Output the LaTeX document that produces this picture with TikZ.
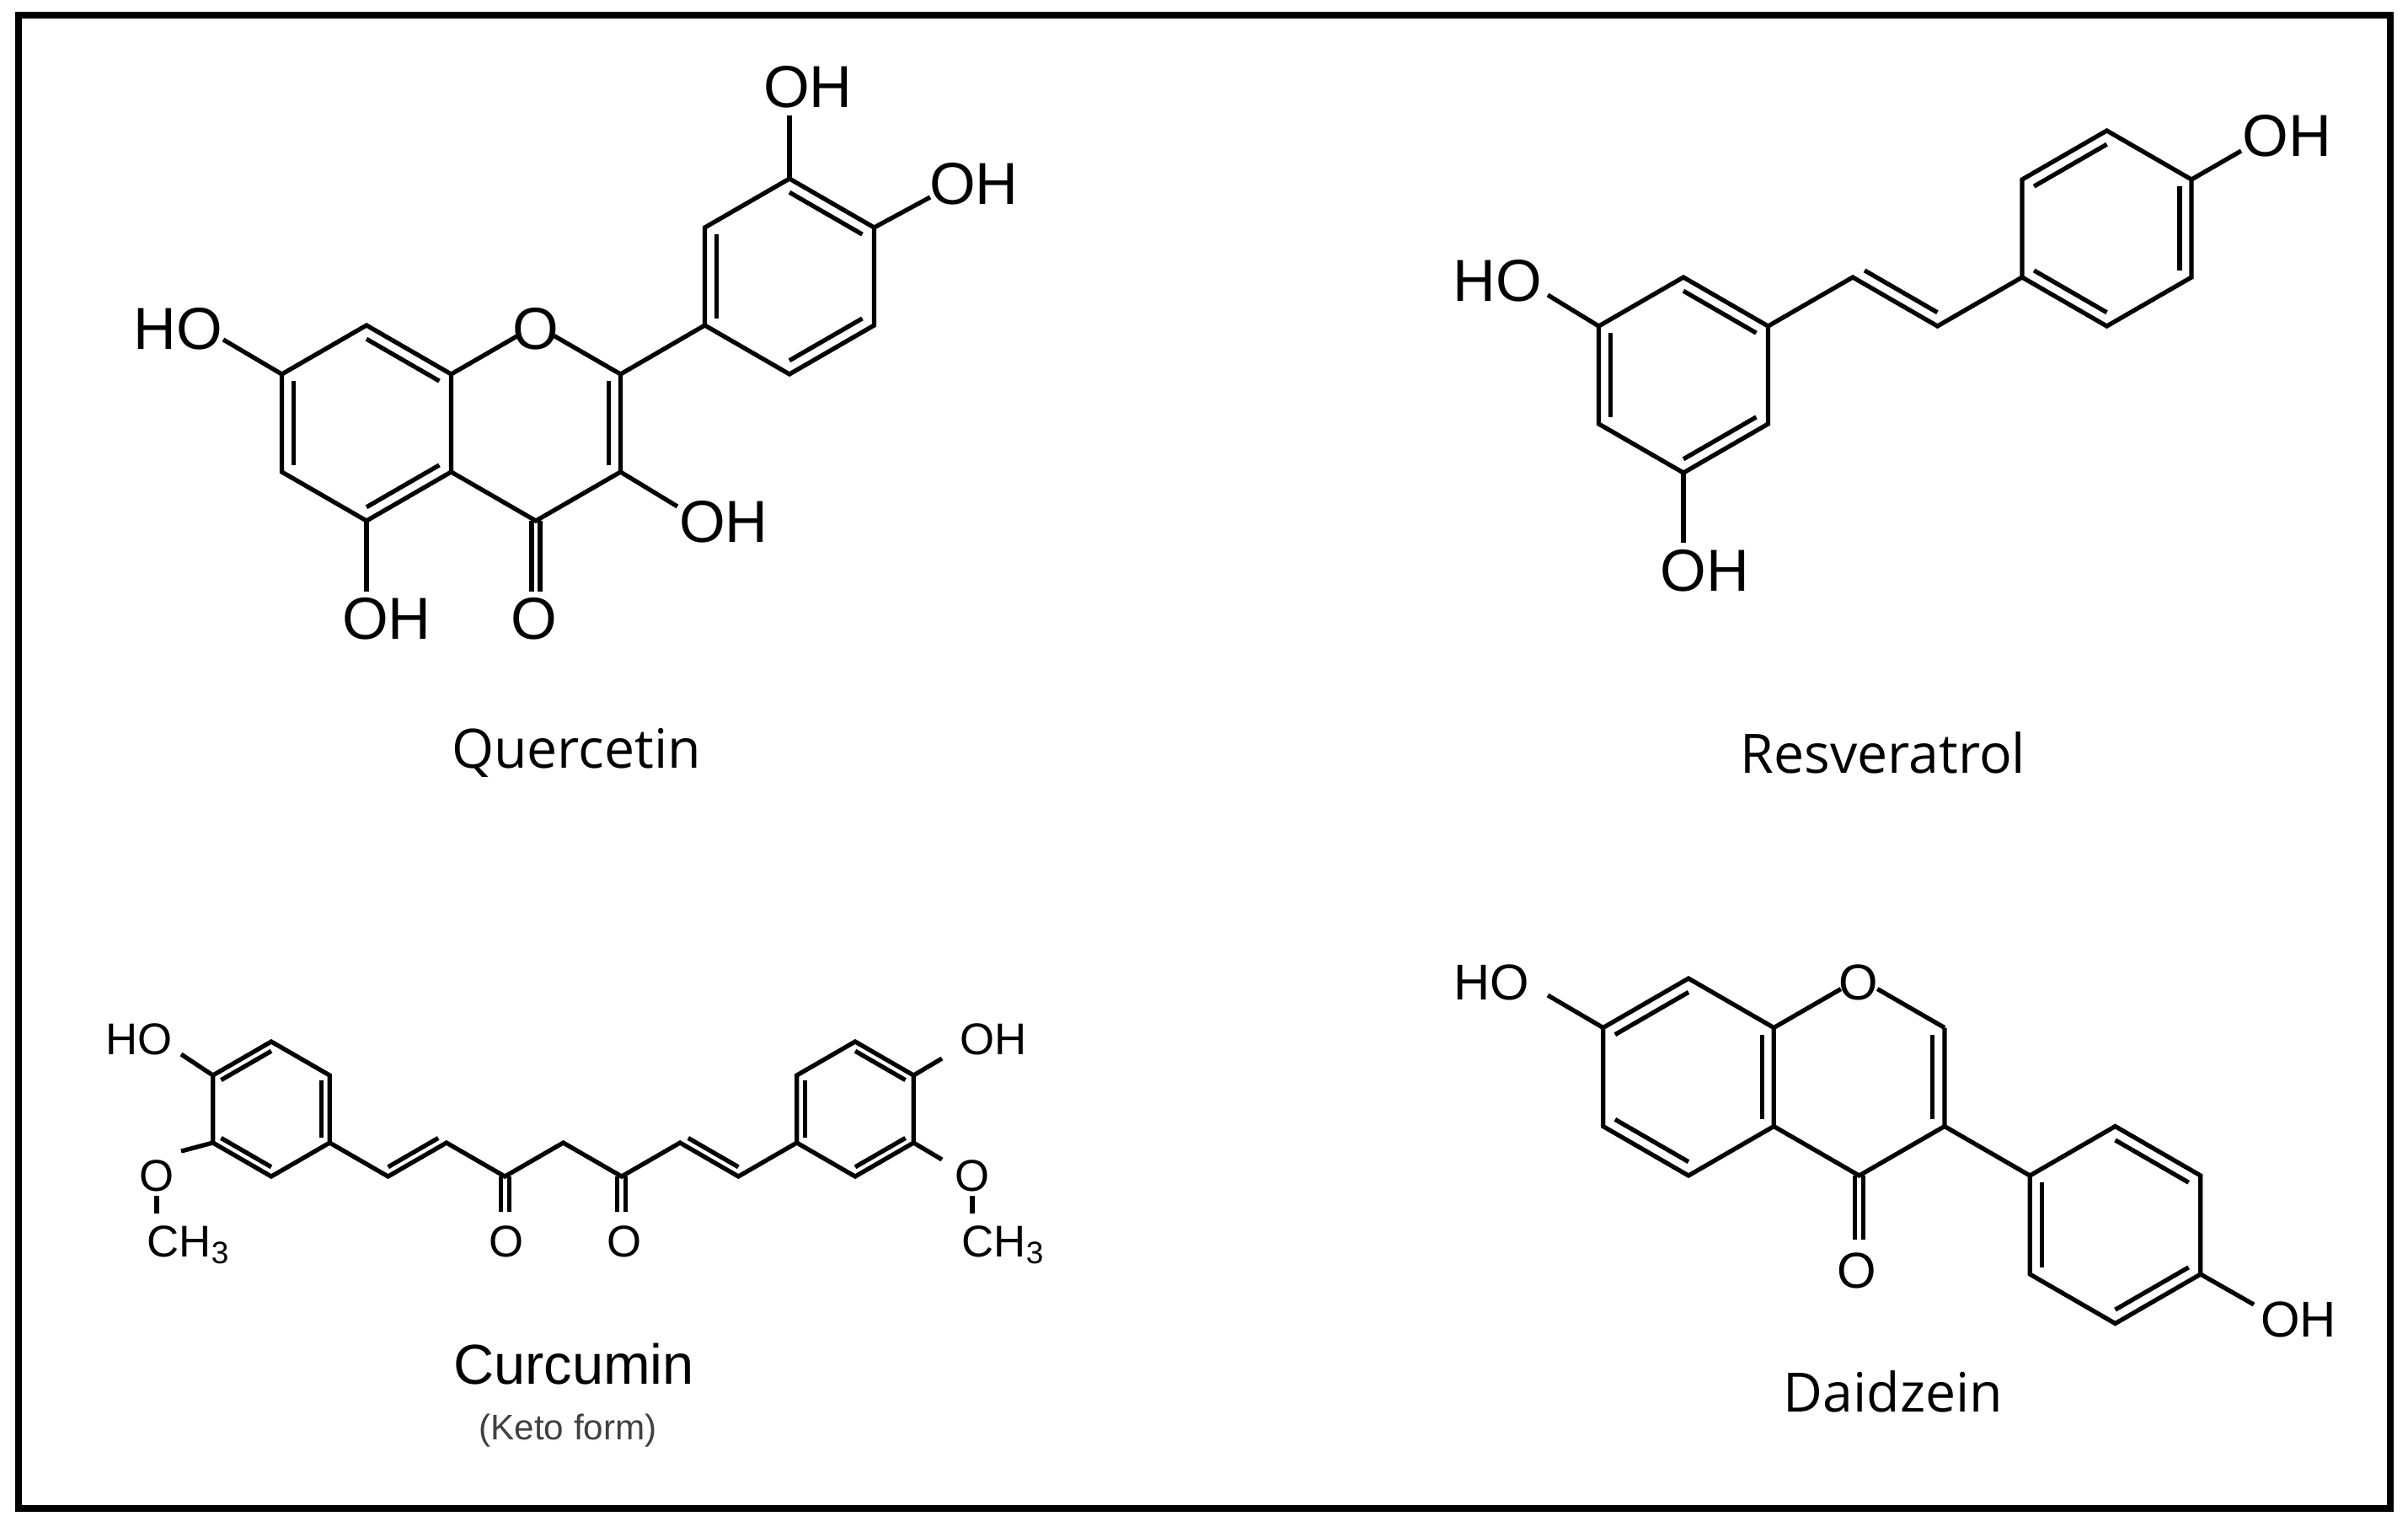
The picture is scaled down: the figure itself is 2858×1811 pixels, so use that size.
\documentclass[tikz,border=0pt]{standalone}
\usepackage{fontspec}
\setmainfont{Liberation Sans}
\newfontfamily\capfont{Open Sans}
\usetikzlibrary{calc}
\newcommand\innerb[3]{\draw[bondl] ($(#1)!0.14!(#3)$) -- ($(#2)!0.14!(#3)$);}
\newcommand\dblv[2]{\draw[bondl] ($(#1)+(-5,0)$) -- ($(#2)+(-5,0)$); \draw[bondl] ($(#1)+(5,0)$) -- ($(#2)+(5,0)$);}
\begin{document}
\begin{tikzpicture}[x=0.01cm,y=-0.01cm,
  bondl/.style={line width=1.5pt},
  lbl/.style={font=\fontsize{20}{20}\selectfont, inner sep=0pt},
  lbld/.style={font=\fontsize{17}{17}\selectfont, inner sep=0pt},
  lblc/.style={font=\fontsize{15}{15}\selectfont, inner sep=0pt},
  caption/.style={font=\capfont\fontsize{18.3}{18.3}\selectfont, inner sep=0pt}]
\useasboundingbox (0,0) rectangle (2858,1811);
\fill[white] (0,0) rectangle (2858,1811);
\draw[line width=2.2pt] (22,18) rectangle (2837,1790);

% ================= Quercetin =================
\coordinate (qAc) at (435,502); \coordinate (qCc) at (636,502); \coordinate (qBc) at (937,328);
\coordinate (qA1) at (435,386); \coordinate (qA2) at (535.5,444); \coordinate (qA3) at (535.5,560);
\coordinate (qA4) at (435,618); \coordinate (qA5) at (334.5,560); \coordinate (qA6) at (334.5,444);
\coordinate (qO1) at (636,386); \coordinate (qC2) at (736.5,444); \coordinate (qC3) at (736.5,560); \coordinate (qC4) at (636,618);
\coordinate (qB1) at (937,212); \coordinate (qB2) at (1037.5,270); \coordinate (qB3) at (1037.5,386);
\coordinate (qB4) at (937,444); \coordinate (qB5) at (836.5,386); \coordinate (qB6) at (836.5,270);
\coordinate (qe7) at (265,403); \coordinate (qe5) at (435,702); \coordinate (qe4) at (636,702);
\coordinate (qe3) at (804,601); \coordinate (qe3p) at (937,137); \coordinate (qe4p) at (1104,234);
\draw[bondl] (qA1)--(qA2)--(qA3)--(qA4)--(qA5)--(qA6)--cycle;
\draw[bondl,shorten >=0.25cm] (qA2)--(qO1);
\draw[bondl,shorten <=0.25cm] (qO1)--(qC2);
\draw[bondl] (qC2)--(qC3)--(qC4)--(qA3);
\draw[bondl] (qB1)--(qB2)--(qB3)--(qB4)--(qB5)--(qB6)--cycle;
\draw[bondl] (qC2)--(qB5);
\innerb{qA1}{qA2}{qAc} \innerb{qA5}{qA6}{qAc} \innerb{qA3}{qA4}{qAc}
\innerb{qC2}{qC3}{qCc}
\innerb{qB5}{qB6}{qBc} \innerb{qB1}{qB2}{qBc} \innerb{qB3}{qB4}{qBc}
\draw[bondl] (qA6)--(qe7); \draw[bondl] (qA4)--(qe5); \dblv{qC4}{qe4}
\draw[bondl] (qC3)--(qe3); \draw[bondl] (qB1)--(qe3p); \draw[bondl] (qB2)--(qe4p);
\node[lbl] (qlO1) at (636,390) {O};
\node[lbl] (qlHO7) at (211,390) {HO};
\node[lbl] (qlOH5) at (459,734) {OH};
\node[lbl] (qlO4) at (634,734) {O};
\node[lbl] (qlOH3) at (859,619) {OH};
\node[lbl] (qlOH3p) at (959,103) {OH};
\node[lbl] (qlOH4p) at (1156,218) {OH};
\node[caption] (qcap) at (684,893) {Quercetin};

% ================= Resveratrol =================
\coordinate (rLc) at (1998,445); \coordinate (rRc) at (2500.5,271);
\coordinate (rL1) at (1998,329); \coordinate (rL2) at (2098.5,387); \coordinate (rL3) at (2098.5,503);
\coordinate (rL4) at (1998,561); \coordinate (rL5) at (1897.5,503); \coordinate (rL6) at (1897.5,387);
\coordinate (rV1) at (2199,329); \coordinate (rV2) at (2299.5,387); \coordinate (rVc) at (2299,271);
\coordinate (rR1) at (2500.5,155); \coordinate (rR2) at (2601,213); \coordinate (rR3) at (2601,329);
\coordinate (rR4) at (2500.5,387); \coordinate (rR5) at (2400,329); \coordinate (rR6) at (2400,213);
\coordinate (re1) at (1837,350); \coordinate (re2) at (1998,644); \coordinate (re3) at (2660,179);
\draw[bondl] (rL1)--(rL2)--(rL3)--(rL4)--(rL5)--(rL6)--cycle;
\draw[bondl] (rR1)--(rR2)--(rR3)--(rR4)--(rR5)--(rR6)--cycle;
\draw[bondl] (rL2)--(rV1)--(rV2)--(rR5);
\innerb{rL1}{rL2}{rLc} \innerb{rL5}{rL6}{rLc} \innerb{rL3}{rL4}{rLc}
\innerb{rR6}{rR1}{rRc} \innerb{rR2}{rR3}{rRc} \innerb{rR5}{rR4}{rRc}
\innerb{rV1}{rV2}{rVc}
\draw[bondl] (rL6)--(re1); \draw[bondl] (rL4)--(re2); \draw[bondl] (rR2)--(re3);
\node[lbl] (rlHO) at (1777,333) {HO};
\node[lbl] (rlOH1) at (2023,677) {OH};
\node[lbl] (rlOH2) at (2714,161) {OH};
\node[caption] (rcap) at (2235,893) {Resveratrol};

% ================= Curcumin =================
\coordinate (cLc) at (322,1316); \coordinate (cRc) at (1015,1316);
\coordinate (cL1) at (322,1236); \coordinate (cL2) at (391.3,1276); \coordinate (cL3) at (391.3,1356);
\coordinate (cL4) at (322,1396); \coordinate (cL5) at (252.7,1356); \coordinate (cL6) at (252.7,1276);
\coordinate (cR1) at (1015,1236); \coordinate (cR2) at (1084.3,1276); \coordinate (cR3) at (1084.3,1356);
\coordinate (cR4) at (1015,1396); \coordinate (cR5) at (945.7,1356); \coordinate (cR6) at (945.7,1276);
\coordinate (ck1) at (460.6,1396); \coordinate (ck2) at (529.9,1356); \coordinate (ck3) at (599.2,1396);
\coordinate (ck4) at (668.5,1356); \coordinate (ck5) at (737.8,1396); \coordinate (ck6) at (807.1,1356);
\coordinate (ck7) at (876.4,1396);
\coordinate (cv1) at (460.7,1316); \coordinate (cv2) at (876.4,1316);
\coordinate (cO3) at (599.2,1438); \coordinate (cO5) at (737.8,1438);
\draw[bondl] (cL1)--(cL2)--(cL3)--(cL4)--(cL5)--(cL6)--cycle;
\draw[bondl] (cR1)--(cR2)--(cR3)--(cR4)--(cR5)--(cR6)--cycle;
\draw[bondl] (cL3)--(ck1)--(ck2)--(ck3)--(ck4)--(ck5)--(ck6)--(ck7)--(cR5);
\innerb{cL6}{cL1}{cLc} \innerb{cL2}{cL3}{cLc} \innerb{cL5}{cL4}{cLc}
\innerb{cR1}{cR2}{cRc} \innerb{cR6}{cR5}{cRc} \innerb{cR4}{cR3}{cRc}
\innerb{ck1}{ck2}{cv1} \innerb{ck6}{ck7}{cv2}
\dblv{ck3}{cO3} \dblv{ck5}{cO5}
\draw[bondl] (cL6)--(215,1251); \draw[bondl] (cL5)--(215,1366);
\draw[bondl] (186,1419)--(186,1440);
\draw[bondl] (cR2)--(1118,1256); \draw[bondl] (cR3)--(1118,1376);
\draw[bondl] (1154,1419)--(1154,1440);
\node[lblc] (clHO) at (165,1233) {HO};
\node[lblc] (clO1) at (186,1395) {O};
\node[lblc,anchor=base west] (clMe1) at (174,1491) {CH\textsubscript{3}};
\node[lblc] (clOH) at (1179,1233) {OH};
\node[lblc] (clO2) at (1154,1395) {O};
\node[lblc,anchor=base west] (clMe2) at (1141,1491) {CH\textsubscript{3}};
\node[lblc] (clO3) at (601,1473) {O};
\node[lblc] (clO5) at (741,1473) {O};
\node[font=\fontsize{19}{19}\selectfont, inner sep=0pt] (ccap) at (681,1619) {Curcumin};
\node[font=\fontsize{12}{12}\selectfont, inner sep=0pt, text=black!75] (ccap2) at (674,1698) {(Keto form)};

% ================= Daidzein =================
\coordinate (dAc) at (2004,1278); \coordinate (dCc) at (2206.6,1278); \coordinate (dBc) at (2510.5,1453.5);
\coordinate (dA1) at (2004,1161); \coordinate (dA2) at (2105.3,1219.5); \coordinate (dA3) at (2105.3,1336.5);
\coordinate (dA4) at (2004,1395); \coordinate (dA5) at (1902.7,1336.5); \coordinate (dA6) at (1902.7,1219.5);
\coordinate (dO1) at (2206.6,1161); \coordinate (dC2) at (2307.9,1219.5); \coordinate (dC3) at (2307.9,1336.5); \coordinate (dC4) at (2206.6,1395);
\coordinate (dB1) at (2510.5,1336.5); \coordinate (dB2) at (2611.8,1395); \coordinate (dB3) at (2611.8,1512);
\coordinate (dB4) at (2510.5,1570.5); \coordinate (dB5) at (2409.2,1512); \coordinate (dB6) at (2409.2,1395);
\coordinate (de1) at (1837,1181); \coordinate (de4) at (2206.6,1471); \coordinate (de2) at (2675,1548);
\draw[bondl] (dA1)--(dA2)--(dA3)--(dA4)--(dA5)--(dA6)--cycle;
\draw[bondl,shorten >=0.25cm] (dA2)--(dO1);
\draw[bondl,shorten <=0.25cm] (dO1)--(dC2);
\draw[bondl] (dC2)--(dC3)--(dC4)--(dA3);
\draw[bondl] (dB1)--(dB2)--(dB3)--(dB4)--(dB5)--(dB6)--cycle;
\draw[bondl] (dC3)--(dB6);
\innerb{dA6}{dA1}{dAc} \innerb{dA5}{dA4}{dAc} \innerb{dA2}{dA3}{dAc}
\innerb{dC2}{dC3}{dCc}
\innerb{dB1}{dB2}{dBc} \innerb{dB6}{dB5}{dBc} \innerb{dB4}{dB3}{dBc}
\draw[bondl] (dA6)--(de1); \dblv{dC4}{de4} \draw[bondl] (dB3)--(de2);
\node[lbld] (dlO1) at (2206,1166) {O};
\node[lbld] (dlHO) at (1770,1166) {HO};
\node[lbld] (dlO4) at (2204,1508) {O};
\node[lbld] (dlOH) at (2728,1566) {OH};
\node[caption] (dcap) at (2247,1651) {Daidzein};
\end{tikzpicture}
\end{document}
